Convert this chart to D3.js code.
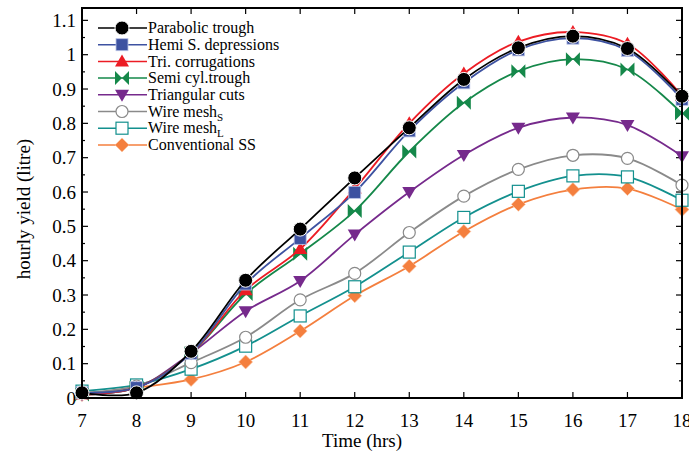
<!DOCTYPE html>
<html>
<head>
<meta charset="utf-8">
<script src="https://cdn.jsdelivr.net/npm/d3@7"></script>
<style>
body { margin: 0; background: #fff; }
</style>
</head>
<body>
<svg id="chart" width="689" height="455" font-family="'Liberation Serif', 'Times New Roman', serif"></svg>
<script>
// hours
var hours = [7, 8, 9, 10, 11, 12, 13, 14, 15, 16, 17, 18]

// hourly yield (litre) per design
var parabolic   = [0.015, 0.015, 0.136, 0.343, 0.492, 0.641, 0.787, 0.928, 1.020, 1.054, 1.018, 0.879]
var hemi        = [0.015, 0.030, 0.130, 0.332, 0.465, 0.599, 0.778, 0.918, 1.014, 1.048, 1.012, 0.870]
var tri         = [0.010, 0.030, 0.130, 0.314, 0.434, 0.610, 0.800, 0.945, 1.038, 1.066, 1.032, 0.880]
var semiCyl     = [0.010, 0.030, 0.130, 0.303, 0.420, 0.545, 0.718, 0.860, 0.952, 0.987, 0.957, 0.829]
var triCuts     = [0.010, 0.030, 0.130, 0.253, 0.341, 0.476, 0.600, 0.708, 0.787, 0.817, 0.795, 0.704]
var wireS       = [0.015, 0.035, 0.103, 0.177, 0.286, 0.363, 0.482, 0.588, 0.666, 0.707, 0.698, 0.620]
var wireL       = [0.020, 0.038, 0.084, 0.151, 0.239, 0.324, 0.425, 0.526, 0.602, 0.647, 0.644, 0.576]
var conventional = [0.010, 0.030, 0.054, 0.105, 0.195, 0.298, 0.384, 0.485, 0.564, 0.607, 0.610, 0.549]

var yTicks = [0, 0.1, 0.2, 0.3, 0.4, 0.5, 0.6, 0.7, 0.8, 0.9, 1, 1.1]

var series = [
    { name: 'Parabolic trough', sub: '', values: parabolic, color: '#000000', marker: 'circle' },
    { name: 'Hemi S. depressions', sub: '', values: hemi, color: '#3d52a1', marker: 'square' },
    { name: 'Tri. corrugations', sub: '', values: tri, color: '#ec1c24', marker: 'triangle' },
    { name: 'Semi cyl.trough', sub: '', values: semiCyl, color: '#15884a', marker: 'bowtie' },
    { name: 'Triangular cuts', sub: '', values: triCuts, color: '#762a8c', marker: 'down' },
    { name: 'Wire mesh', sub: 'S', values: wireS, color: '#8a8a8a', marker: 'ocircle' },
    { name: 'Wire mesh', sub: 'L', values: wireL, color: '#13908e', marker: 'osquare' },
    { name: 'Conventional SS', sub: '', values: conventional, color: '#f47f3e', marker: 'diamond' }
]

var svg = d3.select('#chart')
var pLeft = 82, pRight = 682, pTop = 8, pBottom = 398

var x = d3.scaleLinear().domain([7, 18]).range([pLeft, pRight])
var y = d3.scaleLinear().domain([0, 1.136]).range([pBottom, pTop])

////// ticks
var g = svg.append('g')
hours.forEach(function (h) {
    g.append('line').attr('x1', x(h)).attr('x2', x(h)).attr('y1', pBottom).attr('y2', pBottom - 6)
    g.append('line').attr('x1', x(h)).attr('x2', x(h)).attr('y1', pTop).attr('y2', pTop + 6)
    g.append('text').attr('x', x(h)).attr('y', 427).attr('text-anchor', 'middle')
        .attr('font-size', 19).text(h)
})
d3.range(0, 1.1001, 0.05).forEach(function (v) {
    var major = Math.abs(Math.round(v * 10) - v * 10) < 1e-6
    var len = major ? 6 : 3
    g.append('line').attr('x1', pLeft).attr('x2', pLeft + len).attr('y1', y(v)).attr('y2', y(v))
    g.append('line').attr('x1', pRight).attr('x2', pRight - len).attr('y1', y(v)).attr('y2', y(v))
})
yTicks.forEach(function (v) {
    g.append('text').attr('x', 76).attr('y', y(v)).attr('dy', '0.35em').attr('text-anchor', 'end')
        .attr('font-size', 19).text(v)
})
g.selectAll('line').attr('stroke', '#000').attr('stroke-width', 1.2)

svg.append('text').attr('x', 362).attr('y', 447).attr('text-anchor', 'middle')
    .attr('font-size', 19).text('Time (hrs)')
svg.append('text').attr('transform', 'translate(30,' + ((pTop + pBottom) / 2 + 6) + ')rotate(-90)')
    .attr('text-anchor', 'middle').attr('font-size', 19).text('hourly yield (litre)')

////// markers
function drawMarker(sel, type, cx, cy, color) {
    if (type === 'circle') {
        sel.append('circle').attr('cx', cx).attr('cy', cy).attr('r', 7)
            .attr('fill', color).attr('stroke', '#fff').attr('stroke-width', 1)
    } else if (type === 'ocircle') {
        sel.append('circle').attr('cx', cx).attr('cy', cy).attr('r', 6)
            .attr('fill', '#fff').attr('stroke', color).attr('stroke-width', 1.2)
    } else if (type === 'square') {
        sel.append('rect').attr('x', cx - 6).attr('y', cy - 6).attr('width', 12).attr('height', 12)
            .attr('fill', color).attr('stroke', '#b8c2e6').attr('stroke-width', 0.8)
    } else if (type === 'osquare') {
        sel.append('rect').attr('x', cx - 6).attr('y', cy - 6).attr('width', 12).attr('height', 12)
            .attr('fill', '#fff').attr('stroke', color).attr('stroke-width', 1.2)
    } else if (type === 'triangle') {
        sel.append('path').attr('d', 'M' + cx + ',' + (cy - 7) + 'L' + (cx + 7) + ',' + (cy + 5) + 'L' + (cx - 7) + ',' + (cy + 5) + 'Z')
            .attr('fill', color)
    } else if (type === 'down') {
        sel.append('path').attr('d', 'M' + cx + ',' + (cy + 7) + 'L' + (cx + 7) + ',' + (cy - 5) + 'L' + (cx - 7) + ',' + (cy - 5) + 'Z')
            .attr('fill', color)
    } else if (type === 'bowtie') {
        sel.append('path').attr('d', 'M' + (cx - 7) + ',' + (cy - 7) + 'L' + cx + ',' + cy + 'L' + (cx - 7) + ',' + (cy + 7) + 'Z' +
            'M' + (cx + 7) + ',' + (cy - 7) + 'L' + cx + ',' + cy + 'L' + (cx + 7) + ',' + (cy + 7) + 'Z')
            .attr('fill', color)
    } else if (type === 'diamond') {
        sel.append('path').attr('d', 'M' + cx + ',' + (cy - 7) + 'L' + (cx + 7) + ',' + cy + 'L' + cx + ',' + (cy + 7) + 'L' + (cx - 7) + ',' + cy + 'Z')
            .attr('fill', color).attr('stroke', '#fbc7a6').attr('stroke-width', 0.6)
    }
}

var line = d3.line()
    .x(function (d, i) { return x(hours[i]) })
    .y(function (d) { return y(d) })
    .curve(d3.curveCatmullRom.alpha(0.5))

// draw bottom series first so parabolic trough stays on top
var order = series.slice().reverse()
order.forEach(function (s) {
    var gs = svg.append('g')
    gs.append('path').datum(s.values).attr('d', line)
        .attr('fill', 'none').attr('stroke', s.color).attr('stroke-width', 1.8)
    s.values.forEach(function (v, i) {
        drawMarker(gs, s.marker, x(hours[i]), y(v), s.color)
    })
})

////// frame
svg.append('rect').attr('x', pLeft).attr('y', pTop).attr('width', pRight - pLeft).attr('height', pBottom - pTop)
    .attr('fill', 'none').attr('stroke', '#000').attr('stroke-width', 2)

////// legend
var legend = svg.append('g')
series.forEach(function (s, i) {
    var ly = 28 + i * 16.7
    legend.append('line').attr('x1', 98).attr('x2', 147).attr('y1', ly).attr('y2', ly)
        .attr('stroke', s.color).attr('stroke-width', 1.5)
    drawMarker(legend, s.marker, 122, ly, s.color)
    var t = legend.append('text').attr('x', 148).attr('y', ly).attr('dy', '0.33em')
        .attr('font-size', 16).text(s.name)
    if (s.sub) {
        t.append('tspan').attr('font-size', 11).attr('dy', 4).text(s.sub)
    }
})
</script>
</body>
</html>
